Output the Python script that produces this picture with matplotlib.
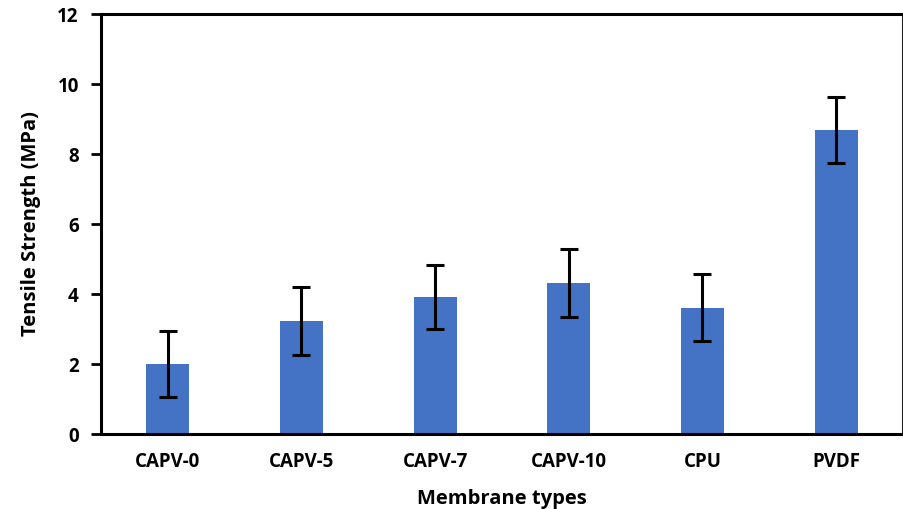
import matplotlib
matplotlib.use("Agg")
import matplotlib.pyplot as plt

categories = ["CAPV-0", "CAPV-5", "CAPV-7", "CAPV-10", "CPU", "PVDF"]
values = [2.0, 3.23, 3.92, 4.31, 3.61, 8.69]
errors = [0.93, 0.97, 0.92, 0.97, 0.96, 0.95]
yticks = [0, 2, 4, 6, 8, 10, 12]

plt.rcParams['font.family'] = ['Open Sans', 'DejaVu Sans']

fig = plt.figure(figsize=(9.04, 5.09), dpi=100)
ax = fig.add_axes([101/904, 1 - 434/509, (903-101)/904, (434-14)/509])

x = list(range(len(categories)))
ax.bar(x, values, width=0.32, color="#4472C4", zorder=2)
ax.errorbar(x, values, yerr=errors, fmt="none", ecolor="black",
            elinewidth=2.2, capsize=6.5, capthick=2.2, zorder=3)

ax.set_xlim(-0.5, len(categories) - 0.5)
ax.set_ylim(0, 12)
ax.set_yticks(yticks)
ax.set_yticklabels([str(t) for t in yticks], fontsize=13.5, fontweight="bold")
ax.set_xticks(x)
ax.set_xticklabels(categories, fontsize=13.5, fontweight="bold")
ax.tick_params(axis="x", length=0, pad=13)
ax.tick_params(axis="y", length=7, width=2, direction="out", pad=9)

for side in ["left", "bottom", "top"]:
    ax.spines[side].set_linewidth(2.2)
    ax.spines[side].set_color("black")
ax.spines["right"].set_linewidth(1.5)
ax.spines["right"].set_color("#222222")

ax.set_xlabel("Membrane types", fontsize=14.5, fontweight="bold", labelpad=12)
ax.set_ylabel("Tensile Strength (MPa)", fontsize=14.5, fontweight="bold", labelpad=12)

fig.savefig("out.png", dpi=100)
